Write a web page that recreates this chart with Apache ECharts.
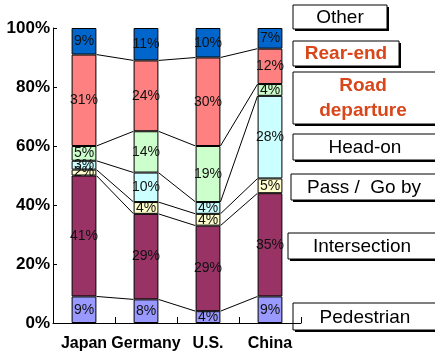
<!DOCTYPE html>
<html>
<head>
<meta charset="utf-8">
<script src="https://cdn.jsdelivr.net/npm/echarts@6/dist/echarts.min.js"></script>
<style>
  html, body { margin: 0; padding: 0; background: #fff; }
  #chart { width: 435px; height: 356px; }
</style>
</head>
<body>
<div id="chart"></div>
<script>
// data (percent shares, bottom to top)
const countries = ['Japan', 'Germany', 'U.S.', 'China'];
const types = ['Pedestrian', 'Intersection', 'Pass /  Go by', 'Head-on', 'Road departure', 'Rear-end', 'Other'];
const pedestrian = [9, 8, 4, 9];
const intersection = [41, 29, 29, 35];
const passGoBy = [2, 4, 4, 5];
const headOn = [3, 10, 4, 28];
const roadDeparture = [5, 14, 19, 4];
const rearEnd = [31, 24, 30, 12];
const other = [9, 11, 10, 7];
const yTicks = [0, 20, 40, 60, 80, 100];

const values = [pedestrian, intersection, passGoBy, headOn, roadDeparture, rearEnd, other];
const colors = ['#9999ff', '#993366', '#ffffcc', '#ccffff', '#ccffcc', '#ff8080', '#0066cc'];

const chart = echarts.init(document.getElementById('chart'));

// cumulative tops of each segment, used for the connecting lines
const tops = [];
countries.forEach((c, i) => {
  let s = 0;
  values.forEach((arr, k) => {
    s += arr[i];
    if (k < values.length - 1 && i < countries.length - 1) {
      let s2 = 0;
      for (let j = 0; j <= k; j++) s2 += values[j][i + 1];
      tops.push([i, s, s2]);
    }
  });
});

const barW = 0.4;

const series = values.map((arr, k) => ({
  name: types[k],
  type: 'bar',
  stack: 'all',
  barWidth: (barW * 100) + '%',
  data: arr,
  itemStyle: { color: colors[k], borderColor: '#000', borderWidth: 1 },
  label: {
    show: true,
    formatter: p => p.value + '%',
    color: '#111',
    fontFamily: 'Liberation Sans',
    fontSize: 14
  },
  z: 3
}));

series.push({
  type: 'custom',
  data: tops,
  z: 2,
  silent: true,
  renderItem: function (params, api) {
    const i = api.value(0);
    const a = api.coord([i, api.value(1)]);
    const b = api.coord([i + 1, api.value(2)]);
    const half = api.size([1, 0])[0] * barW / 2;
    return {
      type: 'line',
      shape: { x1: a[0] + half, y1: a[1], x2: b[0] - half, y2: b[1] },
      style: { stroke: '#000', lineWidth: 1 }
    };
  }
});

// label boxes on the right
function box(x, y, w, h, lines, color, bold) {
  const children = [
    { type: 'rect', shape: { x: x + 2, y: y + 2, width: w, height: h }, style: { fill: '#000' } },
    { type: 'rect', shape: { x: x, y: y, width: w, height: h }, style: { fill: '#fff', stroke: '#000', lineWidth: 1 } }
  ];
  lines.forEach(l => {
    children.push({
      type: 'text',
      x: l[1], y: l[2],
      style: {
        text: l[0], fill: color, fontSize: 19,
        fontFamily: 'Liberation Sans', fontWeight: bold ? 'bold' : 'normal',
        align: 'center', verticalAlign: 'middle'
      }
    });
  });
  return { type: 'group', z: 10, children: children };
}

const red = '#d8461a';
const graphics = [
  box(293, 5, 94, 24, [['Other', 340, 18]], '#000', false),
  box(293, 41, 106, 25, [['Rear-end', 346, 54]], red, true),
  box(293, 72, 145, 52, [['Road', 363, 86], ['departure', 363, 111]], red, true),
  box(293, 134, 145, 26, [['Head-on', 365, 148]], '#000', false),
  box(291, 174, 147, 26, [['Pass /  Go by', 364, 188]], '#000', false),
  box(288, 233, 150, 26, [['Intersection', 362, 247]], '#000', false),
  box(293, 303, 145, 27, [['Pedestrian', 365, 318]], '#000', false)
];

chart.setOption({
  animation: false,
  grid: { left: 53, top: 28, width: 248, bottom: 33 },
  xAxis: {
    type: 'category',
    data: countries,
    axisLine: { lineStyle: { color: '#000', width: 1 } },
    axisTick: { show: true, inside: true, length: 6, lineStyle: { color: '#000' } },
    axisLabel: {
      interval: 0,
      color: '#000', fontSize: 16, fontWeight: 'bold',
      fontFamily: 'Liberation Sans', margin: 13
    }
  },
  yAxis: {
    type: 'value',
    min: 0, max: 100, interval: 20,
    axisLine: { show: true, lineStyle: { color: '#000', width: 1 } },
    axisTick: { show: true, inside: true, length: 4, lineStyle: { color: '#000' } },
    splitLine: { show: false },
    axisLabel: {
      color: '#000', fontSize: 17, fontWeight: 'bold',
      fontFamily: 'Liberation Sans', margin: 3,
      formatter: v => (yTicks.indexOf(v) >= 0 ? v + '%' : '')
    }
  },
  series: series,
  graphic: graphics
});
</script>
</body>
</html>
